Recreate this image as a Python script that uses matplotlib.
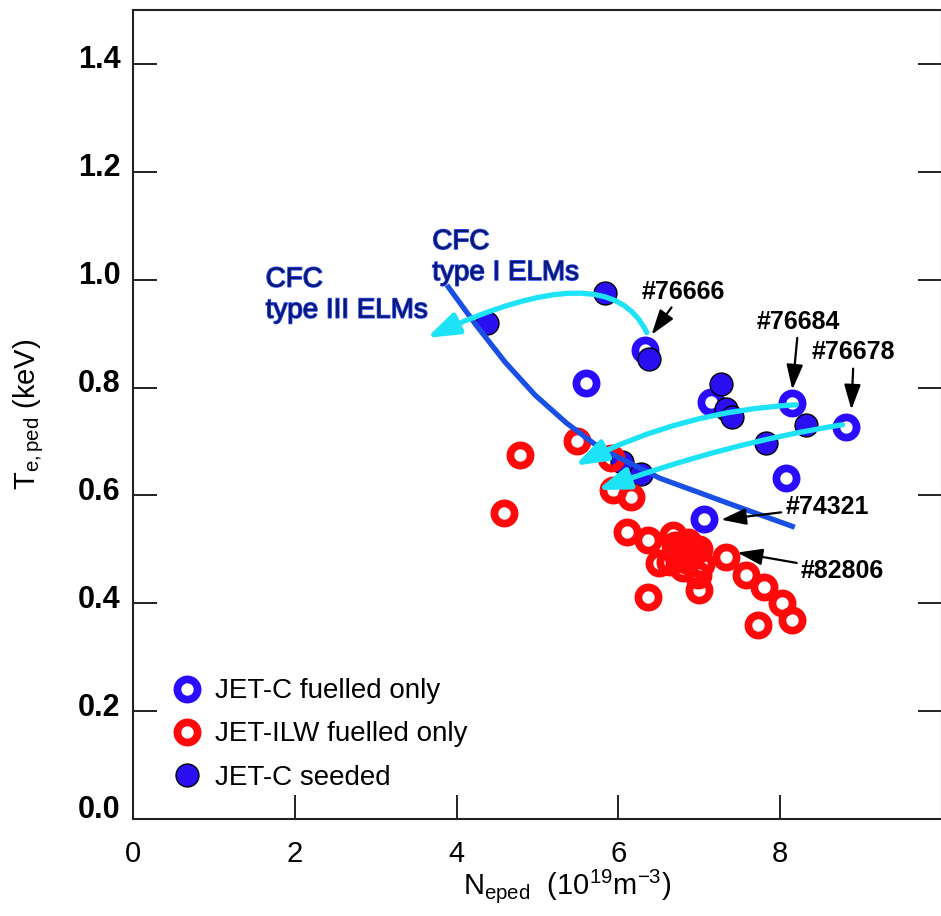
import matplotlib
matplotlib.use('Agg')
import matplotlib.pyplot as plt
from matplotlib.patches import FancyArrowPatch
from matplotlib.transforms import ScaledTranslation
import matplotlib.patheffects as pe

# ---------------- data ----------------
jetc_fuelled_n = [5.60, 7.15, 8.15, 8.81, 8.07, 7.06, 6.33]
jetc_fuelled_t = [0.809, 0.774, 0.772, 0.727, 0.633, 0.557, 0.870]

jetc_seeded_n = [4.37, 5.83, 6.38, 7.27, 7.33, 7.40, 7.83, 8.32, 6.04, 6.28]
jetc_seeded_t = [0.920, 0.976, 0.852, 0.807, 0.760, 0.745, 0.698, 0.731, 0.662, 0.640]

ilw_n = [4.78, 4.59, 5.49, 5.91, 5.93, 6.16, 6.11, 6.36, 6.37, 6.67, 6.50,
         6.70, 6.86, 7.00, 6.75, 6.90, 7.02, 6.80, 6.64, 6.80, 6.84, 6.92, 6.72,
         6.98, 7.00, 7.33, 7.58, 7.80, 8.02, 8.15, 7.72]
ilw_t = [0.675, 0.568, 0.700, 0.670, 0.610, 0.597, 0.532, 0.518, 0.412, 0.527, 0.475,
         0.508, 0.514, 0.501, 0.488, 0.488, 0.473, 0.465, 0.477, 0.501, 0.480, 0.503, 0.495,
         0.453, 0.425, 0.486, 0.453, 0.430, 0.400, 0.369, 0.360]

fit_n = [3.88, 4.24, 4.60, 4.97, 5.36, 5.77, 6.51, 7.42, 8.18]
fit_t = [0.990, 0.916, 0.847, 0.786, 0.734, 0.688, 0.632, 0.582, 0.541]

# cyan trajectory arrows: start, end and path angles (degrees)
traj_start_n = [6.35, 8.20, 8.77]
traj_start_t = [0.902, 0.768, 0.731]
traj_end_n = [3.63, 5.46, 5.74]
traj_end_t = [0.892, 0.655, 0.610]
traj_angle_a = [115, 3, 9]
traj_angle_b = [25, 27, 20]

shot_labels = ['#76666', '#76684', '#76678', '#74321', '#82806']
shot_text_n = [6.80, 8.23, 8.91, 8.58, 8.77]
shot_text_t = [0.978, 0.922, 0.865, 0.579, 0.460]
shot_tip_n = [6.41, 8.15, 8.88, 7.27, 7.47]
shot_tip_t = [0.898, 0.796, 0.759, 0.555, 0.494]

xticks = [0, 2, 4, 6, 8, 10]
xtick_labels = ['0', '2', '4', '6', '8', '']
yticks = [0.0, 0.2, 0.4, 0.6, 0.8, 1.0, 1.2, 1.4]
ytick_labels = ['0.0', '0.2', '0.4', '0.6', '0.8', '1.0', '1.2', '1.4']

legend_labels = ['JET-C fuelled only', 'JET-ILW fuelled only', 'JET-C seeded']

# ---------------- style ----------------
plt.rcParams['font.family'] = ['Liberation Sans', 'DejaVu Sans']
plt.rcParams['mathtext.fontset'] = 'custom'
plt.rcParams['mathtext.rm'] = 'Liberation Sans'
plt.rcParams['mathtext.it'] = 'Liberation Sans:italic'
plt.rcParams['mathtext.bf'] = 'Liberation Sans:bold'

BLUE = '#2a0cff'
RED = '#ff0a0a'
FILL = '#2a10f0'
CURVE = '#1a4fe6'
CYAN = '#1ee3f7'
NAVY = '#0c1766'

fig = plt.figure(figsize=(9.41, 9.16), dpi=100)
ax = fig.add_axes([133 / 941, 97 / 916, (942 - 133) / 941, (819 - 10) / 916])
ax.set_xlim(0, 10)
ax.set_ylim(0, 1.5)

ms_ring = 14.5
mew_ring = 5.6

ax.plot(jetc_fuelled_n, jetc_fuelled_t, 'o', ms=ms_ring, mfc='white', mec=BLUE,
        mew=mew_ring, ls='none', zorder=3)
ax.plot(jetc_seeded_n, jetc_seeded_t, 'o', ms=16.5, mfc=FILL, mec='black',
        mew=1.0, ls='none', zorder=4)
ax.plot(ilw_n, ilw_t, 'o', ms=ms_ring, mfc='none', mec=RED, mew=mew_ring,
        ls='none', zorder=5)

ax.plot(fit_n, fit_t, '-', color=CURVE, lw=3.8, solid_capstyle='butt',
        solid_joinstyle='round', zorder=6)

for sn, st, en, et, a, b in zip(traj_start_n, traj_start_t, traj_end_n, traj_end_t,
                                traj_angle_a, traj_angle_b):
    arr = FancyArrowPatch((sn, st), (en, et),
                          connectionstyle=f'angle3,angleA={a},angleB={b}',
                          arrowstyle='-|>,head_length=0.95,head_width=0.33',
                          mutation_scale=20, lw=3.8, color=CYAN,
                          shrinkA=0, shrinkB=0, zorder=7)
    ax.add_patch(arr)

for lab, tn, tt, pn, pt in zip(shot_labels, shot_text_n, shot_text_t, shot_tip_n, shot_tip_t):
    ax.annotate(lab, xy=(pn, pt), xytext=(tn, tt), ha='center', va='center',
                fontsize=18, fontweight='bold', color='black', zorder=8,
                arrowprops=dict(arrowstyle='-|>,head_length=0.85,head_width=0.28',
                                color='black', lw=1.6, shrinkA=1, shrinkB=0))

glow = [pe.withStroke(linewidth=1.2, foreground='#2a4cff')]
ax.text(3.70, 1.094, 'CFC\ntype I ELMs', ha='left', va='top', fontsize=20,
        color=NAVY, linespacing=1.25, zorder=8, path_effects=glow)
ax.text(1.64, 1.024, 'CFC\ntype III ELMs', ha='left', va='top', fontsize=20,
        color=NAVY, linespacing=1.25, zorder=8, path_effects=glow)

# legend
h1, = ax.plot([], [], 'o', ms=ms_ring, mfc='white', mec=BLUE, mew=mew_ring, ls='none')
h2, = ax.plot([], [], 'o', ms=ms_ring, mfc='white', mec=RED, mew=mew_ring, ls='none')
h3, = ax.plot([], [], 'o', ms=16.5, mfc=FILL, mec='black', mew=1.0, ls='none')
leg = ax.legend([h1, h2, h3], legend_labels, loc='lower left',
                bbox_to_anchor=(0.049, 0.035), frameon=False, fontsize=20,
                handlelength=1.0, handletextpad=0.52, labelspacing=0.62,
                borderpad=0, borderaxespad=0)

# axes styling
for s in ['left', 'bottom', 'top', 'right']:
    ax.spines[s].set_linewidth(1.5)
    ax.spines[s].set_color('#222222')

ax.set_xticks(xticks)
ax.set_xticklabels(xtick_labels, fontsize=21)
ax.set_yticks(yticks)
ax.set_yticklabels(ytick_labels, fontsize=22, fontweight='bold')
ax.tick_params(axis='both', direction='in', length=17, width=1.4, color='#222222')
ax.tick_params(axis='y', right=True, pad=9)
ax.tick_params(axis='x', top=False, pad=15)

offset = ScaledTranslation(0, 7 / 100, fig.dpi_scale_trans)
extra = ScaledTranslation(0, 6 / 100, fig.dpi_scale_trans)
for i, lbl in enumerate(ax.get_yticklabels()):
    tr = lbl.get_transform() + offset
    if i == 0:
        tr = tr + extra
    lbl.set_transform(tr)

ax.set_xlabel(r'N$_{\rm eped}$  (10$^{19}$m$^{-3}$)', fontsize=21)
ax.xaxis.set_label_coords(0.537, -0.060)
ax.set_ylabel(r'T$_{\rm e,ped}$ (keV)', fontsize=21)
ax.yaxis.set_label_coords(-0.108, 0.5)

fig.savefig('out.png', dpi=100)
